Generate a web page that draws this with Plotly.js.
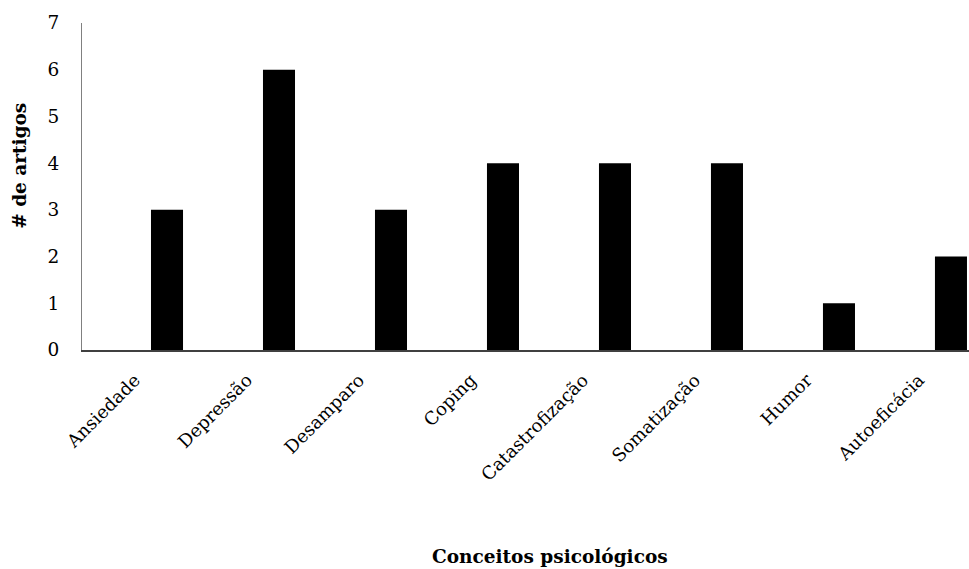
<!DOCTYPE html>
<html>
<head>
<meta charset="utf-8">
<script src="https://cdn.plot.ly/plotly-3.0.1.min.js"></script>
<style>html,body{margin:0;padding:0;background:#fff;}#chart{width:969px;height:569px;}</style>
</head>
<body>
<div id="chart"></div>
<script>
const categories = ["Ansiedade","Depressão","Desamparo","Coping","Catastrofização","Somatização","Humor","Autoeficácia"];
const articles = [3, 6, 3, 4, 4, 4, 1, 2];
const yTicks = [0,1,2,3,4,5,6,7];
const xTitle = "Conceitos psicológicos";
const yTitle = "# de artigos";

const font = "DejaVu Serif, Liberation Serif, serif";

const trace = {
  type: "bar",
  x: categories,
  y: articles,
  marker: {color: "#000000", line: {width: 0}},
  width: 0.286,
  offset: 0.116,
  hoverinfo: "x+y"
};

const layout = {
  width: 969,
  height: 569,
  margin: {l: 82, r: 0, t: 23, b: 219, pad: 0},
  paper_bgcolor: "#ffffff",
  plot_bgcolor: "#ffffff",
  showlegend: false,
  font: {family: font, color: "#000000", size: 18},
  xaxis: {
    type: "category",
    range: [-0.5, 7.42],
    showgrid: false,
    zeroline: false,
    showline: true,
    linecolor: "#404040",
    linewidth: 1.5,
    ticks: "",
    tickangle: -45,
    ticklabelstandoff: 11,
    ticklabelshift: -3,
    tickfont: {family: font, size: 18, color: "#000"}
  },
  yaxis: {
    range: [0, 7],
    tickvals: yTicks,
    showgrid: false,
    zeroline: false,
    showline: true,
    linecolor: "#808080",
    linewidth: 1,
    ticks: "",
    ticklabelstandoff: 18,
    tickfont: {family: font, size: 18.5, color: "#000"}
  },
  annotations: [
    {text: "<b>" + xTitle + "</b>", xref: "paper", yref: "paper", x: 0.528, y: -0.633,
     xanchor: "center", yanchor: "middle", showarrow: false, font: {family: font, size: 18.5, color: "#000"}},
    {text: "<b>" + yTitle + "</b>", xref: "paper", yref: "paper", x: -0.07, y: 0.563,
     xanchor: "center", yanchor: "middle", textangle: -90, showarrow: false, font: {family: font, size: 18.5, color: "#000"}}
  ]
};

Plotly.newPlot("chart", [trace], layout, {displayModeBar: false, staticPlot: true});
</script>
</body>
</html>
